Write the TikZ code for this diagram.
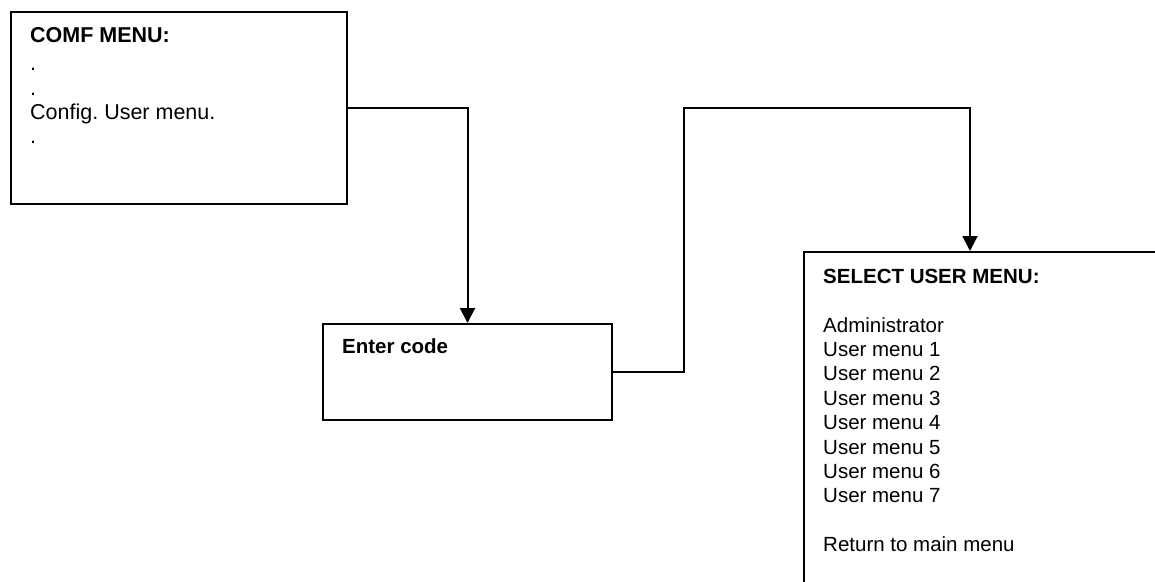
\documentclass[tikz,border=0pt]{standalone}
\usepackage{fontspec}
\setmainfont{Liberation Sans}
\usetikzlibrary{arrows.meta}
\frenchspacing

\tikzset{
  menubox/.style={draw, line width=2pt, rectangle, inner sep=0pt, anchor=north west},
  menutext/.style={inner sep=0pt, anchor=base west, align=left,
    font=\fontsize{20.5}{24.4}\selectfont},
  link/.style={line width=2pt, -{Triangle[width=15pt,length=15pt]}}
}

\begin{document}
\begin{tikzpicture}[x=1pt,y=-1pt]
        \clip (0,0) rectangle (1155,581);

        % boxes
        \node[menubox, minimum width=336pt, minimum height=192pt] (comf) at (10,11) {};
        \node[menubox, minimum width=289pt, minimum height=96pt] (enter) at (322,323) {};
        \node[menubox, minimum width=450pt, minimum height=400pt] (sel) at (803,251) {};

        % texts (base anchor sits on the last line)
        \node[menutext, font=\fontsize{21.5}{24.4}\selectfont] (comftxt) at ([shift={(20,132)}]comf.north west)
            {\textbf{COMF MENU:}\\[3.6pt] .\\[0.6pt] .\\[-0.4pt] Config. User menu.\\[-0.4pt] .};
        \node[menutext] (entertxt) at ([shift={(20,30)}]enter.north west) {\textbf{Enter code}};
        \node[menutext] (seltxt) at ([shift={(20,300.7)}]sel.north west)
            {\textbf{SELECT USER MENU:}\\[24.4pt]
             Administrator\\ User menu 1\\ User menu 2\\ User menu 3\\ User menu 4\\
             User menu 5\\ User menu 6\\ User menu 7\\[24.4pt] Return to main menu};

        \coordinate (selin) at ([xshift=167pt]sel.north west);

        % connectors
        \draw[link] (comf.east) -| (enter.north);
        \draw[link] (enter.east) -- ++(71,0) |- (selin |- comf.east) -- (selin);
\end{tikzpicture}
\end{document}
